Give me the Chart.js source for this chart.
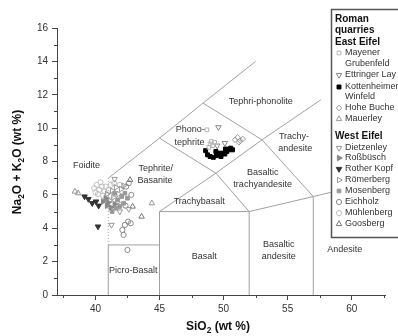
<!DOCTYPE html>
<html>
<head>
<meta charset="utf-8">
<script src="https://cdn.jsdelivr.net/npm/chart.js@4"></script>
<style>
html, body { margin: 0; padding: 0; background: #fff; }
canvas { display: block; }
</style>
</head>
<body>
<canvas id="tas" width="398" height="336"></canvas>
<script>
// sample values, SiO2 vs Na2O+K2O (wt %)
// East Eifel
var mayener = [[48.7, 9.9], [48.95, 9.05], [49.15, 8.95], [48.85, 8.85], [49.3, 9.15], [49.05, 9.2]];
var ettringer = [[49.6, 10.05], [50.1, 9.1], [49.5, 8.95]];
var kottenheimer = [[48.6, 8.65], [48.75, 8.4], [48.95, 8.3], [49.2, 8.25], [49.45, 8.35], [49.4, 8.6],
    [49.6, 8.5], [49.8, 8.3], [49.9, 8.5], [50.1, 8.45], [50.15, 8.75], [50.25, 8.6], [50.4, 8.7],
    [50.55, 8.8], [50.7, 8.7]];
var hoheBuche = [[50.9, 9.3], [51.1, 9.45], [51.3, 9.25], [51.5, 9.35], [51.2, 9.15]];
var mauerley = [[38.4, 6.2], [38.65, 6.1], [44.4, 5.5]];
// West Eifel
var dietzenley = [[41.25, 4.2], [41.9, 5.0], [42.6, 5.15], [41.5, 6.95]];
var rossbusch = [[40.6, 5.6], [40.9, 5.35], [41.2, 5.25], [41.5, 5.45], [40.8, 5.8], [41.0, 5.55]];
var rotherKopf = [[39.15, 5.9], [39.45, 5.75], [39.75, 5.5], [40.2, 4.1], [40.25, 5.35], [40.05, 5.6]];
var roemerberg = [[40.9, 6.05], [41.3, 6.25], [41.6, 6.45], [41.4, 5.85], [41.8, 6.05], [42.0, 6.35],
    [41.1, 5.65], [41.7, 5.55], [42.2, 6.55]];
var mosenberg = [[41.5, 6.1], [41.75, 5.7], [42.05, 5.9], [42.3, 6.1], [42.2, 5.5], [41.9, 5.3],
    [42.5, 5.8], [41.3, 5.0], [41.6, 5.2]];
var eichholz = [[42.1, 3.9], [42.3, 4.2], [42.55, 4.4], [42.2, 3.6], [42.75, 4.3], [42.5, 2.7],
    [42.4, 6.5], [42.8, 6.0], [42.6, 6.7], [42.35, 5.35]];
var muehlenberg = [[39.9, 6.4], [40.1, 6.6], [40.3, 6.3], [40.5, 6.5], [40.2, 6.05], [40.7, 6.2],
    [40.4, 6.75], [40.8, 6.5], [41.0, 6.3], [40.6, 5.95], [41.2, 6.6], [40.0, 6.15], [41.45, 6.7],
    [41.9, 6.6], [41.2, 5.95]];
var goosberg = [[43.6, 4.7], [42.9, 5.3], [42.7, 6.9]];

// TAS field boundaries (Le Bas et al.)
var fieldLines = [
    [[41, 0], [41, 3], [45, 3]],
    [[45, 0], [45, 5], [52, 5], [57, 5.9], [63, 7]],
    [[52, 0], [52, 5]],
    [[57, 0], [57, 5.9]],
    [[45, 5], [49.4, 7.3], [52, 5]],
    [[49.4, 7.3], [53, 9.3], [57, 5.9]],
    [[45, 9.4], [49.4, 7.3]],
    [[41, 7], [45, 9.4], [48.4, 11.5], [52.5, 14]],
    [[48.4, 11.5], [53, 9.3], [57.6, 11.7]]
];
var dottedLine = [[41, 3], [41, 7]];

var fieldNames = [
    ['Foidite', 39.3, 7.75], ['Tephrite/', 44.7, 7.6], ['Basanite', 44.65, 6.85],
    ['Phono-', 47.4, 9.9], ['tephrite', 47.35, 9.15], ['Tephri-phonolite', 52.9, 11.6],
    ['Trachy-', 55.5, 9.5], ['andesite', 55.6, 8.8], ['Basaltic', 53.05, 7.35],
    ['trachyandesite', 53.05, 6.6], ['Trachybasalt', 48.1, 5.6], ['Basalt', 48.5, 2.3],
    ['Basaltic', 54.3, 3.0], ['andesite', 54.3, 2.3], ['Andesite', 59.45, 2.7], ['Picro-Basalt', 42.95, 1.45]
];

var xTicks = [37.5, 40, 42.5, 45, 47.5, 50, 52.5, 55, 57.5, 60, 62.5];

var FONT = '"Liberation Sans", Arial, sans-serif';
var NONE = 'rgba(0,0,0,0)';

var series = [
    { label: 'Mayener Grubenfeld', data: mayener, style: 'rect', rot: 0, r: 2.6, fill: NONE, stroke: '#b4b4b4' },
    { label: 'Ettringer Lay', data: ettringer, style: 'triangle', rot: 180, r: 3.2, fill: NONE, stroke: '#888' },
    { label: 'Kottenheimer Winfeld', data: kottenheimer, style: 'rect', rot: 0, r: 2.8, fill: '#000', stroke: '#000' },
    { label: 'Hohe Buche', data: hoheBuche, style: 'rectRot', rot: 0, r: 2.8, fill: NONE, stroke: '#999' },
    { label: 'Mauerley', data: mauerley, style: 'triangle', rot: 0, r: 3.2, fill: NONE, stroke: '#999' },
    { label: 'Dietzenley', data: dietzenley, style: 'triangle', rot: 180, r: 3.2, fill: NONE, stroke: '#999' },
    { label: 'Roßbüsch', data: rossbusch, style: 'triangle', rot: 90, r: 3.2, fill: '#888', stroke: '#888' },
    { label: 'Rother Kopf', data: rotherKopf, style: 'triangle', rot: 180, r: 3.2, fill: '#333', stroke: '#333' },
    { label: 'Römerberg', data: roemerberg, style: 'triangle', rot: 90, r: 3.2, fill: NONE, stroke: '#999' },
    { label: 'Mosenberg', data: mosenberg, style: 'rect', rot: 0, r: 2.6, fill: '#999', stroke: '#999' },
    { label: 'Eichholz', data: eichholz, style: 'circle', rot: 0, r: 2.6, fill: NONE, stroke: '#888' },
    { label: 'Mühlenberg', data: muehlenberg, style: 'circle', rot: 0, r: 2.6, fill: NONE, stroke: '#c0c0c0' },
    { label: 'Goosberg', data: goosberg, style: 'triangle', rot: 0, r: 3.2, fill: NONE, stroke: '#777' }
];

// text, y, series index (or 'h' for heading)
var legendRows = [
    ['Roman', 19, 'h'], ['quarries', 30, 'h'], ['East Eifel', 42, 'h'],
    ['Mayener', 53, 0], ['Grubenfeld', 64], ['Ettringer Lay', 75, 1], ['Kottenheimer', 87, 2],
    ['Winfeld', 97], ['Hohe Buche', 108, 3], ['Mauerley', 119, 4],
    ['West Eifel', 136, 'h'], ['Dietzenley', 148, 5], ['Roßbüsch', 158, 6], ['Rother Kopf', 169, 7],
    ['Römerberg', 180, 8], ['Mosenberg', 191, 9], ['Eichholz', 202, 10], ['Mühlenberg', 213, 11], ['Goosberg', 224, 12]
];

function toXY(arr) {
    return arr.map(function (p) { return { x: p[0], y: p[1] }; });
}

var datasets = [];
series.forEach(function (s) {
    datasets.push({
        type: 'scatter', label: s.label, data: toXY(s.data), order: 0,
        pointStyle: s.style, pointRotation: s.rot, pointRadius: s.r,
        pointBackgroundColor: s.fill, pointBorderColor: s.stroke, pointBorderWidth: 1
    });
});
fieldLines.forEach(function (l) {
    datasets.push({
        type: 'line', data: toXY(l), order: 10, borderColor: '#a0a0a0', borderWidth: 1,
        pointRadius: 0, fill: false, tension: 0
    });
});
datasets.push({
    type: 'line', data: toXY(dottedLine), order: 10, borderColor: '#a0a0a0', borderWidth: 1,
    borderDash: [1, 2], pointRadius: 0, fill: false
});

function drawRich(ctx, parts, x, y, size) {
    var w = 0;
    parts.forEach(function (p) {
        ctx.font = 'bold ' + (p[1] ? size * 0.7 : size) + 'px ' + FONT;
        w += ctx.measureText(p[0]).width;
    });
    var cx = x - w / 2;
    ctx.textAlign = 'left';
    ctx.textBaseline = 'middle';
    parts.forEach(function (p) {
        ctx.font = 'bold ' + (p[1] ? size * 0.7 : size) + 'px ' + FONT;
        ctx.fillText(p[0], cx, y + (p[1] ? size * 0.3 : 0));
        cx += ctx.measureText(p[0]).width;
    });
}

var tasDecor = {
    id: 'tasDecor',
    afterDatasetsDraw: function (chart) {
        var ctx = chart.ctx, xs = chart.scales.x, ys = chart.scales.y;
        var area = chart.chartArea;
        ctx.save();
        // minor ticks
        ctx.strokeStyle = '#444';
        ctx.lineWidth = 1;
        ctx.beginPath();
        xTicks.forEach(function (v) {
            if (v % 5 !== 0) {
                var px = Math.round(xs.getPixelForValue(v)) + 0.5;
                ctx.moveTo(px, area.bottom); ctx.lineTo(px, area.bottom + 3);
            }
        });
        for (var v = 1; v < 16; v += 2) {
            var py = Math.round(ys.getPixelForValue(v)) + 0.5;
            ctx.moveTo(area.left - 3, py); ctx.lineTo(area.left, py);
        }
        ctx.stroke();

        // field names
        ctx.fillStyle = '#333';
        ctx.font = '9px ' + FONT;
        ctx.textAlign = 'center';
        ctx.textBaseline = 'middle';
        fieldNames.forEach(function (f) {
            ctx.fillText(f[0], xs.getPixelForValue(f[1]), ys.getPixelForValue(f[2]));
        });

        // axis titles
        ctx.fillStyle = '#111';
        drawRich(ctx, [['SiO'], ['2', 1], [' (wt %)']], 218, 327, 12);
        ctx.save();
        ctx.translate(18, 162);
        ctx.rotate(-Math.PI / 2);
        drawRich(ctx, [['Na'], ['2', 1], ['O + K'], ['2', 1], ['O (wt %)']], 0, 0, 12);
        ctx.restore();

        // legend box
        ctx.fillStyle = '#fff';
        ctx.fillRect(331, 9, 80, 229);
        ctx.strokeStyle = '#555';
        ctx.lineWidth = 1.5;
        ctx.strokeRect(331.5, 9.5, 80, 228);
        ctx.textAlign = 'left';
        ctx.textBaseline = 'middle';
        legendRows.forEach(function (row) {
            if (row[2] === 'h') {
                ctx.fillStyle = '#111';
                ctx.font = 'bold 10px ' + FONT;
                ctx.fillText(row[0], 335, row[1]);
                return;
            }
            ctx.fillStyle = '#333';
            ctx.font = '9px ' + FONT;
            ctx.fillText(row[0], 345, row[1]);
            if (row[2] !== undefined) {
                var s = series[row[2]];
                ctx.fillStyle = s.fill;
                ctx.strokeStyle = s.stroke;
                ctx.lineWidth = 1;
                Chart.helpers.drawPoint(ctx, { pointStyle: s.style, rotation: s.rot, radius: s.r, borderWidth: 1 }, 339, row[1]);
            }
        });
        ctx.restore();
    }
};

new Chart(document.getElementById('tas'), {
    type: 'scatter',
    data: { datasets: datasets },
    options: {
        responsive: false,
        animation: false,
        events: [],
        layout: { padding: { left: 0, right: 13, top: 28, bottom: 0 } },
        plugins: { legend: { display: false }, tooltip: { enabled: false } },
        scales: {
            x: {
                type: 'linear', min: 37, max: 62.6,
                afterBuildTicks: function (scale) {
                    scale.ticks = xTicks.map(function (v) { return { value: v }; });
                },
                afterFit: function (scale) { scale.height = 41; },
                border: { color: '#444', width: 1 },
                grid: {
                    drawOnChartArea: false, drawTicks: true, tickLength: 5,
                    tickColor: function (c) { return c.tick && c.tick.value % 5 === 0 ? '#444' : NONE; }
                },
                ticks: {
                    color: '#333', padding: 3, maxRotation: 0, autoSkip: false,
                    font: { family: FONT, size: 10 },
                    callback: function (v) { return v % 5 === 0 ? v : ''; }
                }
            },
            y: {
                type: 'linear', min: 0, max: 16,
                afterFit: function (scale) { scale.width = 57; },
                border: { color: '#444', width: 1 },
                grid: {
                    drawOnChartArea: false, drawTicks: true, tickLength: 5,
                    tickColor: function (c) { return c.tick && c.tick.value % 2 === 0 ? '#444' : NONE; }
                },
                ticks: {
                    stepSize: 1, color: '#333', padding: 4, autoSkip: false,
                    font: { family: FONT, size: 10 },
                    callback: function (v) { return v % 2 === 0 ? v : ''; }
                }
            }
        }
    },
    plugins: [tasDecor]
});
</script>
</body>
</html>
